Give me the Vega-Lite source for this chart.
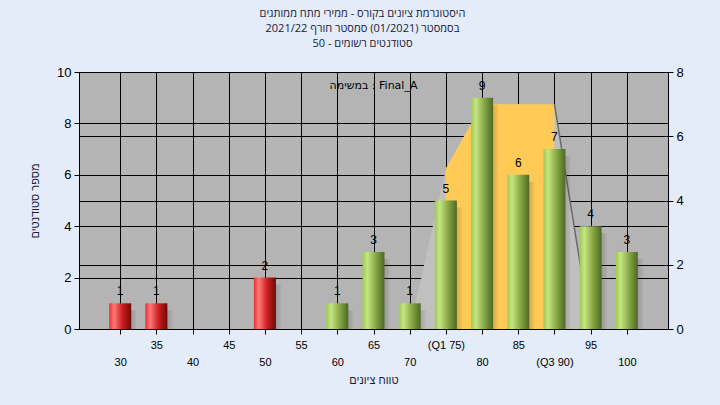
{
  "$schema": "https://vega.github.io/schema/vega-lite/v6.json",
  "autosize": "none",
  "width": 589,
  "height": 257,
  "padding": {"left": 79, "top": 72, "right": 52, "bottom": 76},
  "background": "#e3ecf8",
  "title": {
    "text": "\u200eהיסטוגרמת ציונים בקורס - ממירי מתח ממותגים\u200e",
    "subtitle": ["\u200eבסמסטר  (01/2021)  סמסטר חורף 2021/22\u200e", "\u200eסטודנטים רשומים - 50\u200e"],
    "fontSize": 11,
    "subtitleFontSize": 11,
    "fontWeight": "normal",
    "font": "Open Sans",
    "subtitleFont": "Open Sans",
    "color": "#1a1a40",
    "subtitleColor": "#1a1a40",
    "subtitleLineHeight": 15,
    "subtitlePadding": 4,
    "offset": 17,
    "dx": -11,
    "anchor": "middle"
  },
  "config": {
    "view": {"fill": "#b4b4b4", "stroke": "black", "strokeWidth": 1},
    "axis": {
      "gridColor": "black",
      "gridOpacity": 1,
      "gridWidth": 1,
      "domainColor": "black",
      "tickColor": "black",
      "labelColor": "black",
      "titleColor": "#1a1a40",
      "labelFont": "Liberation Sans",
      "titleFont": "Liberation Sans",
      "titleFontWeight": "normal"
    }
  },
  "datasets": {
    "counts": [
      {"grade": 30, "count": 1, "result": "fail"},
      {"grade": 35, "count": 1, "result": "fail"},
      {"grade": 50, "count": 2, "result": "fail"},
      {"grade": 60, "count": 1, "result": "pass"},
      {"grade": 65, "count": 3, "result": "pass"},
      {"grade": 70, "count": 1, "result": "pass"},
      {"grade": 75, "count": 5, "result": "pass"},
      {"grade": 80, "count": 9, "result": "pass"},
      {"grade": 85, "count": 6, "result": "pass"},
      {"grade": 90, "count": 7, "result": "pass"},
      {"grade": 95, "count": 4, "result": "pass"},
      {"grade": 100, "count": 3, "result": "pass"}
    ],
    "spread": [
      {"grade": 70, "value": 0},
      {"grade": 75, "value": 5},
      {"grade": 80, "value": 7},
      {"grade": 85, "value": 7},
      {"grade": 90, "value": 7},
      {"grade": 95, "value": 0}
    ]
  },
  "encoding": {
    "x": {
      "field": "grade", "type": "quantitative",
      "scale": {"domain": [25, 105], "nice": false, "zero": false},
      "axis": {
        "values": [30, 35, 40, 45, 50, 55, 60, 65, 70, 75, 80, 85, 90, 95, 100],
        "grid": true,
        "tickSize": 5,
        "labelFontSize": 11,
        "labelLineHeight": 17,
        "labelPadding": 5,
        "labelFlush": false,
        "labelOverlap": false,
        "labelExpr": "datum.value == 75 ? '(Q1 75)' : datum.value == 90 ? ['', '(Q3 90)'] : datum.value % 10 == 0 ? ['', datum.label] : datum.label",
        "title": "\u200eטווח ציונים\u200e",
        "titleFontSize": 11,
        "titlePadding": 7
      }
    }
  },
  "layer": [
    {
      "data": {"name": "spread"},
      "encoding": {
        "y": {
          "field": "value", "type": "quantitative",
          "scale": {"domain": [0, 8], "nice": false},
          "axis": {"orient": "right", "values": [0, 2, 4, 6, 8], "grid": true, "title": null, "tickSize": 5, "labelFontSize": 13, "labelPadding": 3}
        }
      },
      "layer": [
        {"mark": {"type": "area", "color": "#c0c0c0"}},
        {"transform": [{"filter": "datum.grade >= 75 && datum.grade <= 90"}], "mark": {"type": "area", "color": "#ffca55"}},
        {"transform": [{"filter": "datum.grade >= 90"}], "mark": {"type": "line", "color": "#6a6a6a", "strokeWidth": 1.5}}
      ]
    },
    {
      "data": {"name": "counts"},
      "encoding": {
        "y": {
          "field": "count", "type": "quantitative",
          "scale": {"domain": [0, 10], "nice": false},
          "axis": {"values": [0, 2, 4, 6, 8, 10], "grid": true, "tickSize": 5, "labelFontSize": 13, "labelPadding": 3, "title": "\u200eמספר סטודנטים\u200e", "titleFontSize": 11, "titlePadding": 16}
        }
      },
      "layer": [
        {
          "mark": {
            "type": "bar", "orient": "vertical", "size": 22, "xOffset": 5, "yOffset": 7,
            "color": {"gradient": "linear", "x1": 0, "y1": 0, "x2": 1, "y2": 0,
              "stops": [{"offset": 0, "color": "rgba(30,30,30,0.55)"}, {"offset": 1, "color": "rgba(30,30,30,0.05)"}]}
          },
          "encoding": {"y2": {"datum": 0}}
        },
        {
          "transform": [{"filter": "datum.result == 'fail'"}],
          "mark": {
            "type": "bar", "orient": "vertical", "size": 22,
            "color": {"gradient": "linear", "x1": 0, "y1": 0, "x2": 1, "y2": 0,
              "stops": [{"offset": 0, "color": "#e8302e"}, {"offset": 0.22, "color": "#ff7a78"}, {"offset": 0.6, "color": "#cc1e1e"}, {"offset": 1, "color": "#700808"}]}
          }
        },
        {
          "transform": [{"filter": "datum.result == 'pass'"}],
          "mark": {
            "type": "bar", "orient": "vertical", "size": 22,
            "color": {"gradient": "linear", "x1": 0, "y1": 0, "x2": 1, "y2": 0,
              "stops": [{"offset": 0, "color": "#9ecb4f"}, {"offset": 0.22, "color": "#c6e582"}, {"offset": 0.6, "color": "#86a845"}, {"offset": 1, "color": "#4e6824"}]}
          }
        },
        {
          "mark": {"type": "text", "baseline": "bottom", "dy": -5, "fontSize": 12, "font": "Liberation Sans", "color": "black"},
          "encoding": {"text": {"field": "count", "type": "quantitative"}}
        },
        {
          "transform": [{"filter": "datum.grade == 65"}],
          "mark": {"type": "text", "fontSize": 11, "font": "DejaVu Sans", "color": "black"},
          "encoding": {
            "y": {"datum": 9.45},
            "text": {"value": "\u200eבמשימה : Final_A\u200e"}
          }
        }
      ]
    }
  ],
  "resolve": {"scale": {"y": "independent"}}
}
